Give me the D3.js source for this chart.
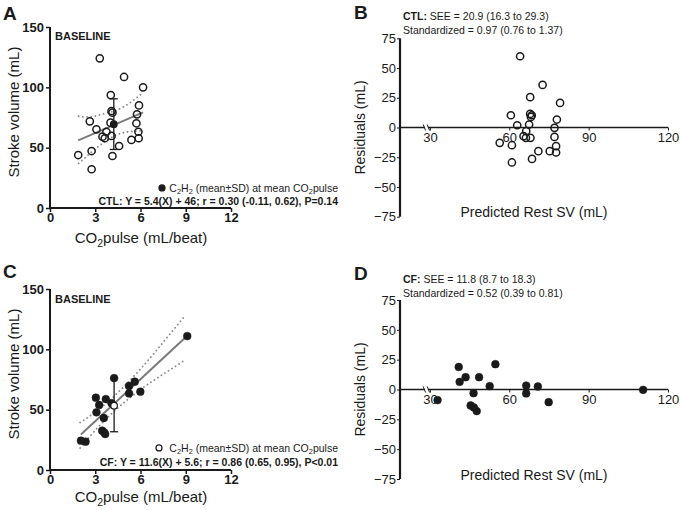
<!DOCTYPE html>
<html><head><meta charset="utf-8">
<script src="https://cdn.jsdelivr.net/npm/d3@7"></script>
<style>
body{margin:0;background:#fff;}
svg{display:block;font-family:"Liberation Sans",Arial,sans-serif;}
</style></head>
<body>
<svg id="c" width="681" height="510"></svg>
<script>
// ---- Data ----
// Panel A: CTL baseline
const ctlX = [3.30,4.91,6.17,4.03,5.90,4.08,4.14,5.77,2.64,4.01,5.73,3.08,3.74,5.86,4.08,3.48,3.63,5.40,5.88,4.58,1.87,2.76,4.14,2.76];
const ctlY = [124,108.6,100,93.6,85,80.4,79,77.6,71.8,70.7,70.2,65.2,63.2,63.2,59.7,59.1,57.8,56.4,57.8,51.4,43.9,47.2,43.1,32.1];
const ctlFitX = [1.87,6.17];
const ctlFitY = [56.1,79.3];
const ctlBandX = [1.9,2.5,3.1,3.7,4.3,4.9,5.5,6.1];
const ctlBandUpper = [76,75.5,76.5,78.5,80.5,84,89,95];
const ctlBandLower = [37,43.5,50,55.5,60,62.5,63.5,64];
const ctlMean = {x:4.23, y:69.4, lo:48.5, hi:90.5};
// Panel B: CTL residuals
const ctlPred = [64.1,72.6,67.9,79.2,60.6,67.9,68.5,68.2,78,63,67.5,77.1,66.4,65.4,66.3,68,77.1,56.4,61,77.7,71,75.3,77.7,68.6,61];
const ctlResid = [59.9,35.8,25.5,20.7,10.3,11.4,10.3,8.9,6.7,1.9,2.5,-0.3,-3.1,-7.3,-8.7,-8.7,-7.9,-12.9,-14.9,-15.7,-19.9,-19.9,-21,-26.4,-29.4];
// Panel C: CF baseline
const cfX = [9.10,4.25,5.62,5.24,5.24,5.99,3.04,3.70,3.26,4.08,3.08,3.57,3.46,3.59,3.66,2.05,2.36];
const cfY = [111,76.2,73.2,69.6,63.5,64.9,59.9,58.8,53.9,55.3,47.8,43.1,32.6,31.2,29.8,24.3,23.5];
const cfFitX = [2.05,9.10];
const cfFitY = [29.4,111.2];
const cfBandX = [2.0,3,4,5,6,7,8,9];
const cfBandUpper = [39.3,47.9,58.3,70.4,83.7,98.3,113.4,128.5];
const cfBandLower = [18.3,32.9,45.7,56.8,66.7,75.3,83.4,91.5];
const c2h2Mean = {x:4.25, y:53.3, lo:31.7, hi:76};
// Panel D: CF residuals
const cfPred = [40.9,54.75,41.25,43.5,48.6,52.6,66.4,70.8,110.6,46.5,66.4,32.9,74.9,45.4,46.6,47.7];
const cfResid = [18.9,21.2,6.4,10.3,10.3,2.8,3.3,2.5,-0.3,-3.1,-3.3,-8.9,-10.6,-13.4,-15,-18.1];
// Ticks
const svTicks = [0,50,100,150];
const co2Ticks = [0,3,6,9,12];
const residTicks = [-75,-50,-25,0,25,50,75];
const predTicks = [30,60,90,120];

const svg = d3.select("#c");
const INK = "#1a1a1a", GRAY = "#7a7a7a";

function richText(g, x, y, parts, opts) {
  const t = g.append("text").attr("x", x).attr("y", y)
    .attr("font-size", opts.size).attr("fill", INK)
    .attr("text-anchor", opts.anchor || "start");
  parts.forEach(p => {
    const s = t.append("tspan").text(p.t);
    if (p.b) s.attr("font-weight", "bold");
    if (p.sub) s.attr("font-size", opts.size * 0.7).attr("dy", opts.size * 0.25);
    if (p.after) s.attr("dy", -opts.size * 0.25);
  });
  return t;
}

function scatterPanel(o) {
  const x = d3.scaleLinear().domain([0,12]).range([50,231]);
  const y = d3.scaleLinear().domain([0,150]).range([o.y0, o.y150]);
  const g = svg.append("g");
  const ya = g.append("g").attr("transform","translate(50,0)")
    .call(d3.axisLeft(y).tickValues(svTicks).tickSize(4).tickPadding(2));
  const xa = g.append("g").attr("transform",`translate(0,${o.y0})`)
    .call(d3.axisBottom(x).tickValues(co2Ticks).tickSize(4).tickPadding(1));
  [ya, xa].forEach(a => {
    a.select(".domain").attr("stroke", INK).attr("stroke-width", 2);
    a.selectAll(".tick line").attr("stroke", INK).attr("stroke-width", 1.5);
    a.selectAll("text").attr("font-size", 13).attr("font-weight","bold").attr("fill", INK)
      .attr("font-family","Liberation Sans, Arial, sans-serif");
  });
  ya.select(".domain").attr("d", `M0,${o.y0}V${o.y150}`);
  xa.select(".domain").attr("d", `M${x(0)},0H${x(12)}`);
  // confidence bands (dotted)
  const band = d3.line().x((d,i)=>x(o.bandX[i])).y(d=>y(d)).curve(d3.curveMonotoneX);
  [o.bandU, o.bandL].forEach(arr => {
    g.append("path").attr("d", band(arr)).attr("fill","none").attr("stroke", "#8a8a8a")
      .attr("stroke-width", 1.9).attr("stroke-dasharray","0.01,4.2").attr("stroke-linecap","round");
  });
  // fit line
  g.append("line").attr("x1", x(o.fitX[0])).attr("x2", x(o.fitX[1]))
    .attr("y1", y(o.fitY[0])).attr("y2", y(o.fitY[1]))
    .attr("stroke", GRAY).attr("stroke-width", 2);
  // points
  g.selectAll("circle.pt").data(o.xs).join("circle").attr("class","pt")
    .attr("cx", d=>x(d)).attr("cy", (d,i)=>y(o.ys[i])).attr("r", o.open ? 3.6 : 3.9)
    .attr("fill", o.open ? "none" : INK).attr("stroke", INK).attr("stroke-width", o.open ? 1.5 : 0.5);
  // mean +- SD
  const m = o.mean;
  g.append("line").attr("x1",x(m.x)).attr("x2",x(m.x)).attr("y1",y(m.lo)).attr("y2",y(m.hi))
    .attr("stroke", INK).attr("stroke-width",1.3);
  [m.lo, m.hi].forEach(v => g.append("line").attr("x1",x(m.x)-4).attr("x2",x(m.x)+4)
    .attr("y1",y(v)).attr("y2",y(v)).attr("stroke",INK).attr("stroke-width",1.3));
  g.append("circle").attr("cx",x(m.x)).attr("cy",y(m.y)).attr("r",3.3)
    .attr("fill", o.open ? INK : "#fff").attr("stroke",INK).attr("stroke-width",1.2);
  // texts
  g.append("text").attr("x",3).attr("y",o.letterY).text(o.letter)
    .attr("font-size",19).attr("font-weight","bold").attr("fill",INK);
  g.append("text").attr("x",55).attr("y",o.baseY).text("BASELINE")
    .attr("font-size",11).attr("font-weight","bold").attr("fill",INK);
  g.append("text").attr("transform",`translate(19,${o.yTitleC}) rotate(-90)`)
    .attr("text-anchor","middle").attr("font-size",15).attr("fill",INK).text("Stroke volume (mL)");
  richText(g, 141, o.xTitleY, [{t:"CO"},{t:"2",sub:true},{t:"pulse (mL/beat)",after:true}], {size:15, anchor:"middle"});
  // legend
  g.append("circle").attr("cx", o.legCx).attr("cy", o.legY - 3.6).attr("r", 3)
    .attr("fill", o.open ? INK : "#fff").attr("stroke", INK).attr("stroke-width", 1.2);
  richText(g, 338, o.legY, [{t:"C"},{t:"2",sub:true},{t:"H",after:true},{t:"2",sub:true},
    {t:" (mean\u00b1SD) at mean CO",after:true},{t:"2",sub:true},{t:"pulse",after:true}], {size:10.5, anchor:"end"});
  g.append("text").attr("x",338).attr("y",o.statY).attr("text-anchor","end")
    .attr("font-size",10.5).attr("font-weight","bold").attr("fill",INK).text(o.stat);
}

function residPanel(o) {
  const x = d3.scaleLinear().domain([18.7,120]).range([400,668]);
  const y = d3.scaleLinear().domain([-75,75]).range([o.yBot, o.yTop]);
  const g = svg.append("g");
  const ya = g.append("g").attr("transform","translate(400,0)")
    .call(d3.axisLeft(y).tickValues(residTicks).tickSize(3).tickPadding(1));
  ya.select(".domain").attr("d", `M0,${o.yBot}V${o.yTop}`).attr("stroke",INK).attr("stroke-width",2.2);
  ya.selectAll(".tick line").attr("stroke",INK);
  ya.selectAll("text").attr("font-size",13).attr("fill",INK).attr("font-family","Liberation Sans, Arial, sans-serif");
  const xa = g.append("g").attr("transform",`translate(0,${y(0)})`)
    .call(d3.axisBottom(x).tickValues(predTicks).tickSize(3).tickPadding(2));
  xa.select(".domain").attr("d", `M400,0H${x(120)}`).attr("stroke",INK).attr("stroke-width",1.6);
  xa.selectAll(".tick line").attr("stroke",INK);
  xa.selectAll("text").attr("font-size",13).attr("fill",INK).attr("font-family","Liberation Sans, Arial, sans-serif");
  // axis break
  const bx = x(30) - 3, by = y(0);
  g.append("rect").attr("x", bx-2).attr("y", by-2).attr("width", 3).attr("height", 4).attr("fill","#fff");
  [bx-2.5, bx+1.5].forEach(v => g.append("line").attr("x1",v-1.2).attr("x2",v+1.2)
    .attr("y1",by-3).attr("y2",by+3).attr("stroke",INK).attr("stroke-width",1));
  // points
  g.selectAll("circle.pt").data(o.xs).join("circle").attr("class","pt")
    .attr("cx", d=>x(d)).attr("cy",(d,i)=>y(o.ys[i])).attr("r", o.open ? 3.6 : 3.9)
    .attr("fill", o.open ? "none" : INK).attr("stroke",INK).attr("stroke-width", o.open ? 1.5 : 0.5);
  // texts
  g.append("text").attr("x",354).attr("y",o.letterY).text(o.letter)
    .attr("font-size",19).attr("font-weight","bold").attr("fill",INK);
  richText(g, 403, o.t1Y, [{t:o.group,b:true},{t:o.see}], {size:10.5});
  g.append("text").attr("x",403).attr("y",o.t1Y+14).attr("font-size",10.5).attr("fill",INK).text(o.std);
  g.append("text").attr("transform",`translate(365,${(o.yTop+o.yBot)/2}) rotate(-90)`)
    .attr("text-anchor","middle").attr("font-size",14).attr("fill",INK).text("Residuals (mL)");
  g.append("text").attr("x",534).attr("y",o.xTitleY).attr("text-anchor","middle")
    .attr("font-size",14).attr("fill",INK).text("Predicted Rest SV (mL)");
}

scatterPanel({y0:208, y150:27, xs:ctlX, ys:ctlY, open:true, fitX:ctlFitX, fitY:ctlFitY,
  bandX:ctlBandX, bandU:ctlBandUpper, bandL:ctlBandLower, mean:ctlMean,
  letter:"A", letterY:20, baseY:40, yTitleC:112, xTitleY:243, legCx:162, legY:191.5, statY:205,
  stat:"CTL: Y = 5.4(X) + 46; r = 0.30 (-0.11, 0.62), P=0.14"});
scatterPanel({y0:470, y150:289, xs:cfX, ys:cfY, open:false, fitX:cfFitX, fitY:cfFitY,
  bandX:cfBandX, bandU:cfBandUpper, bandL:cfBandLower, mean:c2h2Mean,
  letter:"C", letterY:278, baseY:303, yTitleC:374, xTitleY:502, legCx:159, legY:451.5, statY:466,
  stat:"CF: Y = 11.6(X) + 5.6; r = 0.86 (0.65, 0.95), P<0.01"});
residPanel({yTop:38.3, yBot:216.7, xs:ctlPred, ys:ctlResid, open:true, letter:"B", letterY:19,
  group:"CTL:", see:" SEE = 20.9 (16.3 to 29.3)", std:"Standardized = 0.97 (0.76 to 1.37)", t1Y:20, xTitleY:217});
residPanel({yTop:300, yBot:479, xs:cfPred, ys:cfResid, open:false, letter:"D", letterY:280,
  group:"CF:", see:" SEE = 11.8 (8.7 to 18.3)", std:"Standardized = 0.52 (0.39 to 0.81)", t1Y:283, xTitleY:480});
</script>
</body></html>
